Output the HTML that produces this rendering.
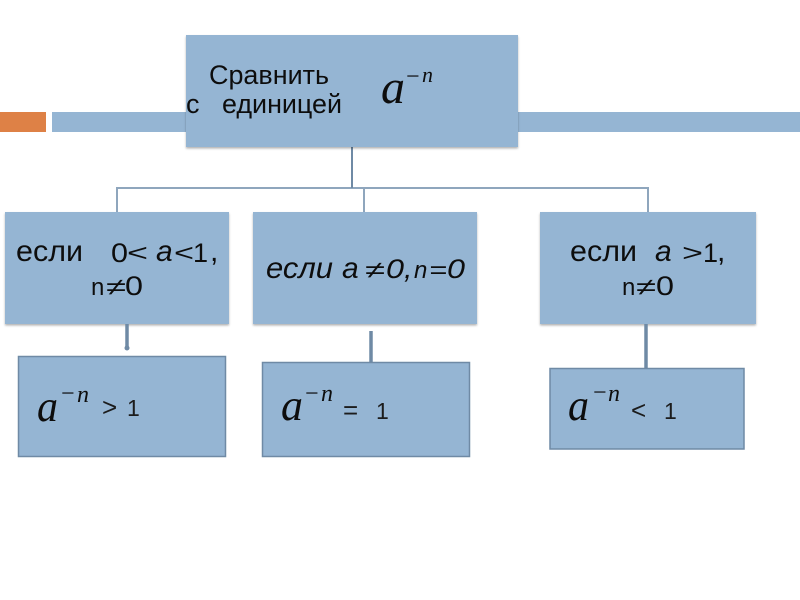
<!DOCTYPE html>
<html>
<head>
<meta charset="utf-8">
<style>
html,body{margin:0;padding:0;background:#fff;width:800px;height:600px;overflow:hidden}
svg{display:block}
text{fill:#111;font-family:"Liberation Sans",sans-serif}
.t{font-size:30px}
.d{font-size:24px}
.g{font-size:27px}
.s{font-size:27px}
.m{font-family:"Liberation Serif",serif;font-style:italic}
.mi{font-size:24px;font-style:normal}
.o{font-size:26px;fill:#1a1a1a}
.q{font-size:23px;fill:#1a1a1a}
.i{font-style:italic}
</style>
</head>
<body>
<svg width="800" height="600" viewBox="0 0 800 600" xmlns="http://www.w3.org/2000/svg">
<defs>
<filter id="b" x="-5%" y="-5%" width="110%" height="110%"><feGaussianBlur stdDeviation="0.35"/></filter>
<filter id="sh" x="-5%" y="-5%" width="110%" height="115%"><feDropShadow dx="0" dy="1.5" stdDeviation="1" flood-color="#000" flood-opacity="0.3"/></filter>
</defs>

<rect x="0" y="112" width="46" height="20" fill="#de8146"/>
<rect x="52" y="112" width="748" height="20" fill="#95b5d3"/>

<g stroke="#8fa6bd" stroke-width="2" fill="none">
<path d="M117 212V188H648V212"/>
<path d="M364 188V212"/>
</g>
<path d="M352 147V188" stroke="#6f8aa5" stroke-width="2"/>

<g fill="#95b5d3" filter="url(#sh)">
<rect x="186" y="35" width="332" height="112"/>
<rect x="5" y="212" width="224" height="112"/>
<rect x="253" y="212" width="224" height="112"/>
<rect x="540" y="212" width="216" height="112"/>
</g>

<g stroke="#6f8aa5" stroke-width="3.5">
<path d="M127 324V348"/>
<path d="M371 331V366"/>
<path d="M646 324V368"/>
</g>
<g fill="#6f8aa5">
<circle cx="127" cy="348" r="2.5"/>
<circle cx="371" cy="367" r="2.5"/>
</g>

<g fill="#95b5d3" stroke="#6f8aa5" stroke-width="1.5">
<rect x="18.5" y="356.5" width="207" height="100"/>
<rect x="262.5" y="362.5" width="207" height="94"/>
<rect x="550" y="368.5" width="194" height="80.5"/>
</g>

<g filter="url(#b)">
<text class="s" x="209" y="84" textLength="120" lengthAdjust="spacingAndGlyphs">Сравнить</text>
<text class="s" x="186" y="113">с</text>
<text class="s" x="222" y="113" textLength="120" lengthAdjust="spacingAndGlyphs">единицей</text>
<text class="m" x="381" y="103" font-size="48" textLength="24" lengthAdjust="spacingAndGlyphs">a</text>
<text class="m mi" x="406" y="84">−</text>
<text class="m" x="422" y="82" font-size="22" textLength="11" lengthAdjust="spacingAndGlyphs">n</text>

<text class="t" x="16" y="261" textLength="67" lengthAdjust="spacingAndGlyphs">если</text>
<text class="g" x="111" y="262" textLength="17" lengthAdjust="spacingAndGlyphs">0</text>
<text class="d" x="127" y="261" textLength="21" lengthAdjust="spacingAndGlyphs">&lt;</text>
<text class="t i" x="156" y="261">а</text>
<text class="d" x="174" y="261" textLength="20" lengthAdjust="spacingAndGlyphs">&lt;</text>
<text class="g" x="193" y="262">1</text>
<text class="t" x="210" y="261">,</text>
<text class="d" x="91" y="295">n</text>
<text class="d" x="106" y="295" textLength="20" lengthAdjust="spacingAndGlyphs">≠</text>
<text class="g" x="125" y="295" textLength="18" lengthAdjust="spacingAndGlyphs">0</text>

<text class="t i" x="266" y="278" textLength="67" lengthAdjust="spacingAndGlyphs">если</text>
<text class="t i" x="342" y="278">а</text>
<text class="d i" x="365" y="278" textLength="20" lengthAdjust="spacingAndGlyphs">≠</text>
<text class="g i" x="386" y="278" textLength="18" lengthAdjust="spacingAndGlyphs">0</text>
<text class="t i" x="404" y="278">,</text>
<text class="d i" x="414" y="278">n</text>
<text class="d i" x="429" y="278" textLength="18" lengthAdjust="spacingAndGlyphs">=</text>
<text class="g i" x="447" y="278" textLength="18" lengthAdjust="spacingAndGlyphs">0</text>

<text class="t" x="570" y="261" textLength="67" lengthAdjust="spacingAndGlyphs">если</text>
<text class="t i" x="655" y="261">а</text>
<text class="d" x="682" y="261" textLength="21" lengthAdjust="spacingAndGlyphs">&gt;</text>
<text class="g" x="703" y="262">1</text>
<text class="t" x="717" y="261">,</text>
<text class="d" x="622" y="295">n</text>
<text class="d" x="636" y="295" textLength="20" lengthAdjust="spacingAndGlyphs">≠</text>
<text class="g" x="656" y="295" textLength="18" lengthAdjust="spacingAndGlyphs">0</text>

<text class="m" x="37" y="421" font-size="44" textLength="21" lengthAdjust="spacingAndGlyphs">a</text>
<text class="m mi" x="61" y="401">−</text>
<text class="m" x="77" y="402" font-size="24" textLength="12" lengthAdjust="spacingAndGlyphs">n</text>
<text class="o" x="102" y="416">&gt;</text>
<text class="q" x="127" y="416">1</text>

<text class="m" x="281" y="420" font-size="44" textLength="22" lengthAdjust="spacingAndGlyphs">a</text>
<text class="m mi" x="305" y="401">−</text>
<text class="m" x="321" y="401" font-size="24" textLength="12" lengthAdjust="spacingAndGlyphs">n</text>
<text class="o" x="343" y="419">=</text>
<text class="q" x="376" y="419">1</text>

<text class="m" x="568" y="420" font-size="44" textLength="21" lengthAdjust="spacingAndGlyphs">a</text>
<text class="m mi" x="593" y="400">−</text>
<text class="m" x="608" y="401" font-size="24" textLength="12" lengthAdjust="spacingAndGlyphs">n</text>
<text class="o" x="631" y="419">&lt;</text>
<text class="q" x="664" y="419">1</text>
</g>
</svg>
</body>
</html>
